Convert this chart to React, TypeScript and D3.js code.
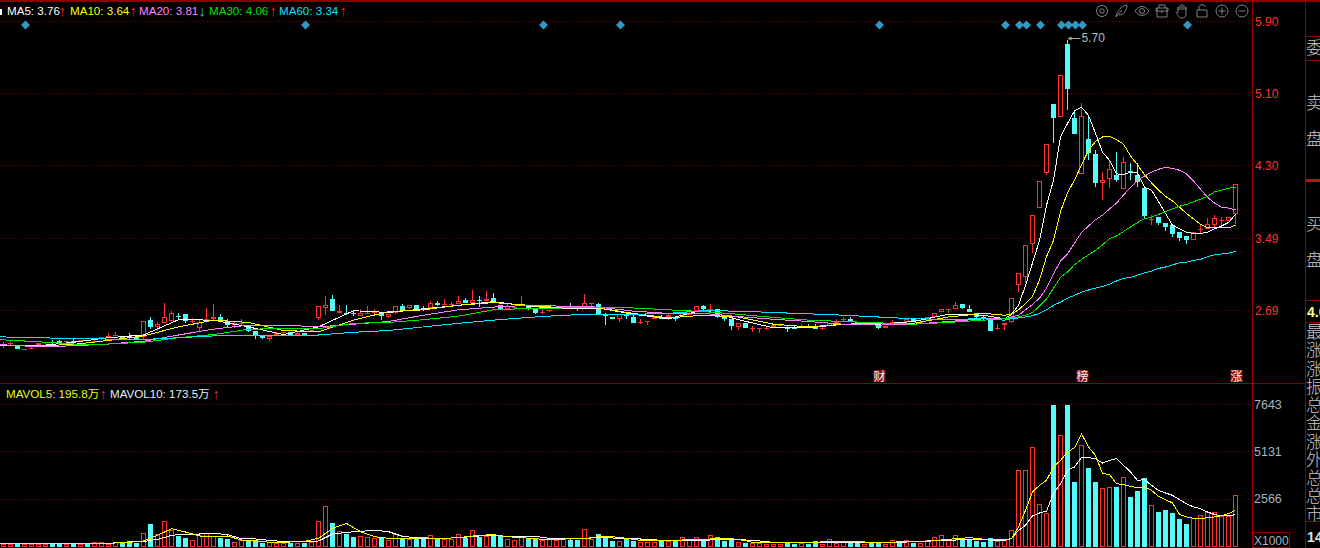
import { useEffect, useRef } from "react"
import * as d3 from "d3"

// Daily candles
const opens = [
  2.31, 2.33, 2.31, 2.26, 2.26, 2.31, 2.33, 2.34, 2.35, 2.34,
  2.35, 2.34, 2.36, 2.34, 2.375, 2.41, 2.425, 2.41, 2.41, 2.395,
  2.40, 2.585, 2.51, 2.555, 2.58, 2.63, 2.65, 2.57, 2.50, 2.59,
  2.60, 2.615, 2.58, 2.53, 2.54, 2.53, 2.46, 2.41, 2.38, 2.42,
  2.44, 2.45, 2.425, 2.44, 2.45, 2.61, 2.725, 2.82, 2.67, 2.67,
  2.66, 2.63, 2.66, 2.68, 2.67, 2.62, 2.66, 2.74, 2.725, 2.75,
  2.72, 2.725, 2.77, 2.76, 2.76, 2.76, 2.81, 2.78, 2.81, 2.80,
  2.83, 2.75, 2.71, 2.72, 2.74, 2.74, 2.71, 2.68, 2.69, 2.71,
  2.71, 2.74, 2.73, 2.71, 2.76, 2.76, 2.64, 2.62, 2.60, 2.65,
  2.625, 2.55, 2.56, 2.60, 2.62, 2.62, 2.625, 2.63, 2.64, 2.69,
  2.74, 2.70, 2.71, 2.64, 2.60, 2.51, 2.555, 2.50, 2.49, 2.50,
  2.51, 2.52, 2.50, 2.51, 2.50, 2.52, 2.51, 2.50, 2.525, 2.56,
  2.595, 2.60, 2.56, 2.55, 2.55, 2.52, 2.50, 2.56, 2.57, 2.56,
  2.60, 2.56, 2.59, 2.62, 2.68, 2.705, 2.705, 2.76, 2.71, 2.66,
  2.615, 2.585, 2.50, 2.53, 2.56, 2.97, 3.06, 3.43, 3.83, 4.22,
  4.99, 4.84, 5.65, 4.83, 4.21, 4.60, 4.43, 4.11, 4.15, 4.20,
  4.04, 4.24, 4.20, 4.05, 3.71, 3.73, 3.66, 3.64, 3.56, 3.52,
  3.47, 3.60, 3.60, 3.64, 3.69, 3.69, 3.76,
]
const highs = [
  2.34, 2.35, 2.31, 2.27, 2.31, 2.33, 2.34, 2.37, 2.36, 2.35,
  2.375, 2.36, 2.37, 2.36, 2.40, 2.44, 2.45, 2.41, 2.44, 2.40,
  2.58, 2.62, 2.56, 2.77, 2.685, 2.67, 2.65, 2.61, 2.60, 2.72,
  2.76, 2.65, 2.60, 2.57, 2.60, 2.53, 2.46, 2.42, 2.41, 2.45,
  2.45, 2.45, 2.46, 2.44, 2.48, 2.74, 2.85, 2.86, 2.75, 2.75,
  2.685, 2.71, 2.74, 2.71, 2.67, 2.65, 2.74, 2.76, 2.75, 2.75,
  2.74, 2.80, 2.80, 2.82, 2.79, 2.85, 2.83, 2.92, 2.85, 2.91,
  2.885, 2.75, 2.76, 2.73, 2.85, 2.74, 2.71, 2.71, 2.70, 2.73,
  2.73, 2.77, 2.73, 2.87, 2.78, 2.78, 2.67, 2.62, 2.65, 2.65,
  2.64, 2.60, 2.58, 2.62, 2.64, 2.655, 2.625, 2.66, 2.71, 2.74,
  2.75, 2.76, 2.71, 2.64, 2.60, 2.55, 2.555, 2.52, 2.50, 2.52,
  2.53, 2.555, 2.52, 2.53, 2.54, 2.54, 2.54, 2.52, 2.55, 2.60,
  2.62, 2.615, 2.56, 2.56, 2.55, 2.52, 2.52, 2.585, 2.57, 2.61,
  2.60, 2.59, 2.625, 2.67, 2.71, 2.71, 2.785, 2.76, 2.75, 2.66,
  2.64, 2.585, 2.54, 2.555, 2.83, 3.11, 3.42, 3.75, 4.13, 4.54,
  4.99, 5.31, 5.70, 4.92, 5.00, 4.84, 4.48, 4.23, 4.35, 4.45,
  4.40, 4.33, 4.33, 4.05, 3.75, 3.73, 3.66, 3.64, 3.56, 3.52,
  3.56, 3.64, 3.72, 3.75, 3.73, 3.73, 4.10,
]
const lows = [
  2.28, 2.31, 2.26, 2.26, 2.26, 2.29, 2.32, 2.32, 2.33, 2.32,
  2.33, 2.34, 2.35, 2.34, 2.37, 2.39, 2.41, 2.37, 2.37, 2.37,
  2.375, 2.49, 2.47, 2.55, 2.58, 2.595, 2.55, 2.55, 2.45, 2.57,
  2.58, 2.59, 2.51, 2.50, 2.52, 2.45, 2.375, 2.38, 2.355, 2.41,
  2.41, 2.42, 2.41, 2.42, 2.45, 2.585, 2.64, 2.69, 2.67, 2.64,
  2.63, 2.63, 2.66, 2.64, 2.585, 2.61, 2.65, 2.68, 2.71, 2.70,
  2.69, 2.725, 2.74, 2.76, 2.73, 2.76, 2.77, 2.78, 2.73, 2.80,
  2.79, 2.70, 2.70, 2.70, 2.74, 2.70, 2.655, 2.65, 2.68, 2.71,
  2.71, 2.72, 2.685, 2.71, 2.74, 2.65, 2.53, 2.60, 2.57, 2.60,
  2.55, 2.54, 2.53, 2.60, 2.60, 2.585, 2.58, 2.63, 2.64, 2.69,
  2.69, 2.70, 2.61, 2.58, 2.48, 2.48, 2.495, 2.45, 2.44, 2.48,
  2.51, 2.52, 2.45, 2.49, 2.50, 2.50, 2.49, 2.48, 2.525, 2.55,
  2.57, 2.58, 2.54, 2.55, 2.53, 2.49, 2.50, 2.56, 2.54, 2.56,
  2.57, 2.56, 2.59, 2.62, 2.68, 2.66, 2.705, 2.705, 2.68, 2.60,
  2.585, 2.47, 2.48, 2.48, 2.55, 2.90, 3.00, 3.33, 3.83, 4.20,
  4.55, 4.84, 4.92, 4.65, 4.21, 4.36, 4.06, 3.92, 4.05, 4.12,
  4.04, 4.14, 4.06, 3.71, 3.64, 3.64, 3.57, 3.51, 3.46, 3.43,
  3.47, 3.55, 3.60, 3.60, 3.64, 3.69, 3.65,
]
const closes = [
  2.31, 2.33, 2.27, 2.27, 2.28, 2.33, 2.34, 2.33, 2.33, 2.35,
  2.33, 2.36, 2.355, 2.35, 2.40, 2.41, 2.425, 2.39, 2.405, 2.38,
  2.58, 2.51, 2.54, 2.625, 2.67, 2.625, 2.58, 2.575, 2.56, 2.60,
  2.615, 2.59, 2.53, 2.55, 2.55, 2.47, 2.41, 2.39, 2.41, 2.44,
  2.45, 2.42, 2.44, 2.42, 2.48, 2.74, 2.75, 2.69, 2.685, 2.665,
  2.655, 2.66, 2.665, 2.68, 2.63, 2.65, 2.74, 2.70, 2.75, 2.71,
  2.715, 2.77, 2.75, 2.765, 2.76, 2.80, 2.77, 2.81, 2.80, 2.82,
  2.79, 2.71, 2.74, 2.73, 2.75, 2.71, 2.67, 2.68, 2.70, 2.73,
  2.73, 2.735, 2.72, 2.77, 2.77, 2.65, 2.635, 2.60, 2.65, 2.63,
  2.55, 2.57, 2.58, 2.62, 2.60, 2.64, 2.60, 2.66, 2.66, 2.74,
  2.71, 2.71, 2.62, 2.60, 2.52, 2.55, 2.495, 2.50, 2.50, 2.50,
  2.53, 2.54, 2.495, 2.49, 2.525, 2.50, 2.49, 2.50, 2.55, 2.57,
  2.595, 2.58, 2.54, 2.56, 2.53, 2.50, 2.52, 2.57, 2.54, 2.595,
  2.57, 2.57, 2.625, 2.67, 2.71, 2.71, 2.75, 2.725, 2.68, 2.62,
  2.61, 2.47, 2.50, 2.555, 2.83, 3.11, 3.42, 3.75, 4.13, 4.54,
  4.83, 5.31, 5.15, 4.65, 4.85, 4.44, 4.11, 4.14, 4.26, 4.14,
  4.34, 4.235, 4.12, 3.74, 3.71, 3.66, 3.62, 3.54, 3.50, 3.47,
  3.56, 3.60, 3.65, 3.72, 3.70, 3.73, 4.10,
]
const volumes = [
  161, 143, 179, 143, 143, 161, 161, 179, 179, 143,
  179, 179, 179, 250, 250, 179, 250, 197, 304, 232,
  733, 1234, 679, 1377, 912, 590, 483, 358, 644, 733,
  590, 483, 429, 250, 375, 322, 322, 215, 268, 232,
  232, 232, 232, 232, 268, 1377, 2181, 1287, 840, 697,
  536, 590, 519, 465, 501, 358, 679, 429, 447, 429,
  447, 626, 447, 447, 447, 679, 501, 894, 554, 608,
  626, 590, 429, 375, 554, 447, 447, 375, 429, 393,
  411, 393, 393, 948, 447, 697, 590, 322, 304, 465,
  322, 286, 286, 286, 304, 304, 304, 519, 411, 519,
  375, 626, 536, 340, 411, 250, 215, 197, 197, 179,
  179, 161, 197, 179, 197, 179, 322, 179, 411, 232,
  250, 232, 232, 143, 232, 197, 179, 358, 250, 358,
  232, 232, 358, 519, 626, 358, 626, 501, 411, 322,
  268, 465, 304, 358, 930, 4148, 4148, 5382, 2324, 1842,
  8600, 6026, 9000, 3469, 5489, 4220, 3469, 3183, 3236, 3201,
  3773, 2664, 2986, 3719, 2271, 1860, 1967, 1806, 1484, 1216,
  1538, 1734, 1895, 1895, 1681, 1681, 2807,
]

// Moving averages are read at these candle indexes, the lines come in from off the left edge
const maDays = [
  -1, 5, 10, 15, 20, 25, 30, 35, 40, 45,
  50, 55, 60, 65, 70, 75, 80, 85, 90, 95,
  100, 105, 110, 115, 120, 125, 130, 135, 140,
  143, 144, 145, 146, 147, 148, 149, 150, 151, 152,
  153, 154, 155, 156, 157, 158, 159, 160, 161, 162,
  163, 164, 165, 166, 167, 168, 169, 170, 171, 172,
  173, 174, 175, 176,
]
const ma5 = [
  2.30, 2.30, 2.34, 2.39, 2.42, 2.59, 2.585, 2.51, 2.425, 2.51,
  2.69, 2.67, 2.71, 2.75, 2.79, 2.74, 2.71, 2.72, 2.65, 2.60,
  2.70, 2.59, 2.50, 2.50, 2.54, 2.54, 2.57, 2.65, 2.64,
  2.60, 2.65, 2.75, 2.97, 3.22, 3.47, 3.86, 4.14, 4.62, 4.77,
  4.91, 4.95, 4.86, 4.66, 4.45, 4.36, 4.21, 4.20, 4.23, 4.22,
  4.06, 4.03, 3.90, 3.77, 3.64, 3.60, 3.56, 3.55, 3.55, 3.56,
  3.60, 3.63, 3.67, 3.76,
]
const ma10 = [
  2.30, 2.30, 2.315, 2.36, 2.41, 2.51, 2.585, 2.56, 2.47, 2.455,
  2.585, 2.68, 2.70, 2.75, 2.78, 2.75, 2.72, 2.72, 2.66, 2.61,
  2.64, 2.62, 2.54, 2.51, 2.54, 2.55, 2.55, 2.62, 2.66,
  2.64, 2.65, 2.70, 2.77, 2.85, 3.03, 3.29, 3.47, 3.79, 4.00,
  4.14, 4.31, 4.47, 4.57, 4.62, 4.63, 4.59, 4.54, 4.41, 4.31,
  4.20, 4.11, 4.03, 3.96, 3.91, 3.84, 3.77, 3.71, 3.65, 3.61,
  3.61, 3.61, 3.61, 3.64,
]
const ma20 = [
  2.315, 2.29, 2.30, 2.32, 2.35, 2.42, 2.485, 2.53, 2.53, 2.51,
  2.54, 2.57, 2.64, 2.70, 2.73, 2.75, 2.74, 2.73, 2.685, 2.66,
  2.66, 2.625, 2.595, 2.57, 2.54, 2.53, 2.54, 2.57, 2.60,
  2.60, 2.62, 2.64, 2.70, 2.76, 2.83, 2.94, 3.10, 3.24, 3.32,
  3.44, 3.56, 3.63, 3.70, 3.75, 3.82, 3.885, 3.975, 4.06, 4.14,
  4.185, 4.23, 4.26, 4.285, 4.27, 4.25, 4.21, 4.13, 4.04, 3.95,
  3.885, 3.84, 3.83, 3.81,
]
const ma30 = [
  2.37, 2.345, 2.32, 2.32, 2.34, 2.39, 2.425, 2.485, 2.49, 2.49,
  2.55, 2.56, 2.59, 2.63, 2.70, 2.715, 2.72, 2.73, 2.72, 2.70,
  2.68, 2.65, 2.615, 2.585, 2.57, 2.555, 2.54, 2.56, 2.585,
  2.60, 2.61, 2.62, 2.64, 2.67, 2.74, 2.82, 2.94, 3.06, 3.12,
  3.20, 3.26, 3.31, 3.36, 3.42, 3.49, 3.52, 3.57, 3.62, 3.67,
  3.71, 3.73, 3.76, 3.79, 3.82, 3.85, 3.87, 3.90, 3.93, 3.96,
  4.01, 4.03, 4.05, 4.06,
]
const ma60 = [
  2.40, 2.39, 2.38, 2.375, 2.37, 2.39, 2.41, 2.41, 2.41, 2.42,
  2.45, 2.47, 2.51, 2.55, 2.585, 2.615, 2.64, 2.65, 2.65, 2.66,
  2.69, 2.685, 2.67, 2.655, 2.64, 2.62, 2.60, 2.595, 2.60,
  2.585, 2.60, 2.61, 2.62, 2.635, 2.66, 2.70, 2.75, 2.785, 2.83,
  2.86, 2.895, 2.92, 2.94, 2.96, 2.985, 3.02, 3.05, 3.06, 3.085,
  3.11, 3.13, 3.16, 3.175, 3.20, 3.22, 3.23, 3.25, 3.26, 3.29,
  3.31, 3.32, 3.33, 3.35,
]

// Volume averages, read the same way
const volDays = [
  -1, 5, 10, 15, 18, 20, 22, 24, 26, 28,
  30, 32, 34, 36, 38, 40, 43, 45, 47, 49,
  51, 53, 55, 57, 60, 62, 65, 68, 70,
  72, 76, 78, 81, 83, 85, 87, 89, 91, 94,
  97, 100, 102, 104, 106, 107, 110, 114, 116, 118,
  122, 124, 126, 129, 132, 134, 136, 138, 141,
  143, 144, 145, 146, 147, 148, 149, 150, 151, 152,
  153, 154, 155, 156, 157, 158, 159, 160, 161, 162,
  163, 164, 165, 166, 167, 168, 169, 170, 171, 172,
  173, 174, 175, 176,
]
const mavol5 = [
  197, 197, 197, 197, 250, 322, 626, 983, 805, 590,
  572, 590, 375, 340, 250, 250, 304, 465, 1001, 1269,
  822, 554, 465, 429, 501, 447, 501, 626, 662,
  554, 447, 375, 447, 447, 554, 554, 465, 358, 358,
  375, 411, 447, 447, 340, 250, 232, 250, 250, 304,
  304, 232, 232, 304, 304, 375, 447, 501, 375,
  393, 447, 1073, 1967, 2950, 3308, 3576, 4291, 4649, 5096,
  5328, 6079, 5364, 4917, 3934, 3898, 3397, 3344, 3254, 3183,
  3218, 3040, 2718, 2539, 2360, 1752, 1609, 1538, 1520, 1573,
  1609, 1681, 1788, 1958,
]
const mavol10 = [
  197, 197, 197, 197, 268, 286, 411, 626, 697, 697,
  733, 662, 447, 429, 358, 286, 286, 322, 697, 787,
  840, 894, 822, 572, 447, 447, 501, 590, 644,
  554, 572, 465, 429, 465, 501, 483, 447, 429, 358,
  358, 358, 393, 429, 375, 358, 250, 250, 250, 250,
  250, 250, 250, 268, 322, 340, 375, 411, 375,
  358, 447, 894, 1162, 1663, 1824, 1931, 2861, 3397, 4112,
  4291, 4792, 4792, 4738, 4506, 4649, 4738, 4381, 4023, 3576,
  3612, 3308, 3040, 2897, 2771, 2539, 2324, 2146, 2056, 1877,
  1752, 1663, 1681, 1735,
]

const priceTicks = [5.9, 5.1, 4.3, 3.49, 2.69]
const volTicks = [7643, 5131, 2566]
const signalDays = [3, 43, 77, 88, 125, 143, 145, 146, 148, 151, 152, 153, 154, 169]
const eventLabels = [
  { day: 125, text: "财" },
  { day: 154, text: "榜" },
  { day: 176, text: "涨" },
]
const maLegend = [
  { label: "MA5: 3.76", x: 7, arrowX: 58.5, arrow: "↑", color: "#ffffff", up: true },
  { label: "MA10: 3.64", x: 70, arrowX: 129.5, arrow: "↑", color: "#ffff00", up: true },
  { label: "MA20: 3.81", x: 139, arrowX: 198.5, arrow: "↓", color: "#ff80ff", up: false },
  { label: "MA30: 4.06", x: 209, arrowX: 269.5, arrow: "↑", color: "#00e600", up: true },
  { label: "MA60: 3.34", x: 279, arrowX: 339.5, arrow: "↑", color: "#00e5ff", up: true },
]
const sideLabels = [
  { text: "委", y: 54 }, { text: "卖", y: 109 }, { text: "盘", y: 145 },
  { text: "买", y: 230 }, { text: "盘", y: 266 }, { text: "最", y: 338 },
  { text: "涨", y: 356 }, { text: "涨", y: 375 }, { text: "振", y: 393 },
  { text: "总", y: 411 }, { text: "金", y: 429 }, { text: "涨", y: 448 },
  { text: "外", y: 466 }, { text: "总", y: 484 }, { text: "总", y: 502 },
  { text: "市", y: 520 },
]

const RED = "#ff3232"
const CYAN = "#54fcfc"
const FRAME = "#8c0000"
const GRID = "#7a0000"
const FONT = "'Liberation Sans', Arial, sans-serif"

export default function App() {
  const svgRef = useRef<SVGSVGElement>(null)

  useEffect(() => {
    if (!svgRef.current) return
    const svg = d3.select(svgRef.current)
    svg.selectAll("*").remove()

    const x = d3.scaleLinear().domain([0, 176]).range([3.5, 1235.5])
    const yPrice = d3.scaleLinear().domain([2.69, 5.9]).range([310.7, 21.7])
    const yVol = d3.scaleLinear().domain([0, 7643]).range([547, 404.5]).clamp(true)
    const snap = (v: number) => Math.round(v) + 0.5

    // Draws a hollow red box or a solid cyan one on whole pixels
    const drawBody = (
      g: d3.Selection<SVGGElement, unknown, null, undefined>,
      cx: number, top: number, bottom: number, up: boolean,
    ) => {
      g.append("rect").attr("x", cx - 2.5).attr("y", top).attr("width", 5)
        .attr("height", Math.max(1, bottom - top)).attr("fill", up ? RED : CYAN)
      if (up && bottom - top > 2) {
        g.append("rect").attr("x", cx - 1.5).attr("y", top + 1).attr("width", 3)
          .attr("height", bottom - top - 2).attr("fill", "#000")
      }
    }

    // Grid lines
    const grid = svg.append("g").attr("stroke", GRID).attr("stroke-dasharray", "1 2")
    priceTicks.forEach((t) => {
      grid.append("line").attr("x1", 0).attr("x2", 1252)
        .attr("y1", snap(yPrice(t) - 0.5)).attr("y2", snap(yPrice(t) - 0.5))
    })
    volTicks.forEach((t) => {
      grid.append("line").attr("x1", 0).attr("x2", 1252)
        .attr("y1", snap(yVol(t) - 0.5)).attr("y2", snap(yVol(t) - 0.5))
    })

    // Candles
    const candles = svg.append("g").attr("shape-rendering", "crispEdges")
    opens.forEach((open, i) => {
      const close = closes[i]
      const up = close >= open
      const color = up ? RED : CYAN
      const cx = x(i)
      const top = Math.round(yPrice(Math.max(open, close)))
      const bottom = Math.round(yPrice(Math.min(open, close)))
      const hi = Math.round(yPrice(highs[i]))
      const lo = Math.round(yPrice(lows[i]))
      candles.append("line").attr("x1", cx).attr("x2", cx).attr("y1", hi).attr("y2", top).attr("stroke", color)
      candles.append("line").attr("x1", cx).attr("x2", cx).attr("y1", bottom).attr("y2", lo).attr("stroke", color)
      drawBody(candles, cx, top, bottom, up)
    })

    // Moving averages
    const maLine = d3.line<number>()
      .x((_, i) => x(maDays[i]))
      .y((d) => yPrice(d))
    const maSeries = [ma5, ma10, ma20, ma30, ma60]
    maSeries.forEach((series, i) => {
      svg.append("path").attr("d", maLine(series)).attr("fill", "none")
        .attr("stroke", maLegend[i].color).attr("shape-rendering", "crispEdges")
    })

    // Highest price note
    const maxY = yPrice(d3.max(highs) as number)
    const maxX = x(highs.indexOf(d3.max(highs) as number))
    svg.append("line").attr("x1", maxX + 1).attr("x2", maxX + 13).attr("y1", snap(maxY - 2)).attr("y2", snap(maxY - 2)).attr("stroke", "#a8a8a8")
    svg.append("path").attr("d", `M${maxX},${snap(maxY - 2)}l4,-2v4z`).attr("fill", "#a8a8a8")
    svg.append("text").attr("x", maxX + 14).attr("y", maxY + 2).attr("fill", "#b4bcc4")
      .attr("font-size", 12).attr("font-family", FONT).text("5.70")

    // Signal diamonds
    signalDays.forEach((d) => {
      svg.append("path").attr("transform", `translate(${x(d) + 1},25)`)
        .attr("d", "M0,-4.5L4.5,0L0,4.5L-4.5,0Z").attr("fill", "#2e9ac4")
    })

    // Event tags
    eventLabels.forEach((e) => {
      const cx = x(e.day) + 1
      svg.append("rect").attr("x", cx - 6).attr("y", 370).attr("width", 12).attr("height", 12).attr("fill", "#8c1010")
      svg.append("text").attr("x", cx).attr("y", 380.5).attr("text-anchor", "middle")
        .attr("fill", "#f0f0f0").attr("font-size", 12).attr("font-family", "'Noto Sans CJK SC'").text(e.text)
    })

    // Volume bars
    const bars = svg.append("g").attr("shape-rendering", "crispEdges")
    volumes.forEach((v, i) => {
      drawBody(bars, x(i), Math.round(yVol(v)), 547, closes[i] >= opens[i])
    })
    const volLine = d3.line<number>()
      .x((_, i) => x(volDays[i]))
      .y((d) => yVol(d))
    svg.append("path").attr("d", volLine(mavol10)).attr("fill", "none").attr("stroke", "#ffffff").attr("shape-rendering", "crispEdges")
    svg.append("path").attr("d", volLine(mavol5)).attr("fill", "none").attr("stroke", "#ffff00").attr("shape-rendering", "crispEdges")

    // Frame
    const frame = svg.append("g").attr("stroke", FRAME).attr("shape-rendering", "crispEdges")
    frame.append("rect").attr("x", 0).attr("y", 0).attr("width", 1320).attr("height", 2).attr("fill", FRAME).attr("stroke", "none")
    frame.append("line").attr("x1", 1252.5).attr("x2", 1252.5).attr("y1", 0).attr("y2", 548)
    frame.append("line").attr("x1", 1305.5).attr("x2", 1305.5).attr("y1", 0).attr("y2", 548)
    frame.append("line").attr("x1", 0).attr("x2", 1305).attr("y1", 383.5).attr("y2", 383.5)
    ;[36, 60, 300, 322, 521].forEach((y) => {
      frame.append("line").attr("x1", 1305).attr("x2", 1320).attr("y1", y + 0.5).attr("y2", y + 0.5)
    })
    frame.append("rect").attr("x", 1306).attr("y", 179).attr("width", 14).attr("height", 3).attr("fill", "#b01818").attr("stroke", "none")
    frame.append("rect").attr("x", 1253.5).attr("y", 532.5).attr("width", 36).attr("height", 15).attr("fill", "none")

    // Axis labels
    priceTicks.forEach((t) => {
      svg.append("text").attr("x", 1255).attr("y", yPrice(t) + 1.5).attr("dominant-baseline", "middle")
        .attr("fill", RED).attr("font-size", 12).attr("font-family", FONT).text(t.toFixed(2))
    })
    volTicks.forEach((t) => {
      svg.append("text").attr("x", 1254).attr("y", yVol(t) + 1).attr("dominant-baseline", "middle")
        .attr("fill", "#a4b4c4").attr("font-size", 12.5).attr("font-family", FONT).text(String(t))
    })
    svg.append("text").attr("x", 1254).attr("y", 544.5).attr("fill", "#a4b4c4")
      .attr("font-size", 12).attr("font-family", FONT).text("X1000")

    // MA legend
    svg.append("rect").attr("x", 0).attr("y", 9).attr("width", 2).attr("height", 6).attr("fill", "#ffffff")
    const legend = svg.append("g").attr("font-size", 11.6).attr("font-family", FONT)
    maLegend.forEach((m) => {
      legend.append("text").attr("x", m.x).attr("y", 15).attr("fill", m.color).text(m.label)
      legend.append("text").attr("x", m.arrowX).attr("y", 15.5).attr("font-size", 15)
        .attr("fill", m.up ? "#f02020" : "#20c8c8").text(m.arrow)
    })

    // Volume legend
    const volLegend = svg.append("g").attr("font-size", 11.6).attr("font-family", "'Liberation Sans', 'Noto Sans CJK SC', sans-serif")
    volLegend.append("text").attr("x", 6).attr("y", 398).attr("fill", "#e8ff00").text("MAVOL5: 195.8万")
    volLegend.append("text").attr("x", 99.5).attr("y", 398.5).attr("font-size", 15).attr("fill", "#c03040").text("↑")
    volLegend.append("text").attr("x", 110).attr("y", 398).attr("fill", "#e0f0ff").text("MAVOL10: 173.5万")
    volLegend.append("text").attr("x", 212.5).attr("y", 398.5).attr("font-size", 15).attr("fill", "#c03040").text("↑")

    // Toolbar icons
    const icons = svg.append("g").attr("fill", "none").attr("stroke", "#808080").attr("stroke-width", 1)
    const gear = icons.append("g").attr("transform", "translate(1102,11)")
    gear.append("path").attr("d", d3.range(8).map((i) => {
      const a = (i * Math.PI) / 4
      return `${i ? "L" : "M"}${5.8 * Math.cos(a)},${5.8 * Math.sin(a)}`
    }).join("") + "Z")
    gear.append("circle").attr("r", 2.2)
    icons.append("path").attr("transform", "translate(1121,11)")
      .attr("d", "M-5,6C-4,0 0,-5 6,-6C6,-1 3,4 -2,4M-5,6L1,-1")
    const eye = icons.append("g").attr("transform", "translate(1142,11)")
    eye.append("path").attr("d", "M-7,0C-3,-6 3,-6 7,0C3,6 -3,6 -7,0Z")
    eye.append("circle").attr("r", 2.5)
    icons.append("path").attr("transform", "translate(1162,11)")
      .attr("d", "M-5,-3V6H5V-3M-6,-3H6V0H-6ZM-3,-3V-6H3V-3M-1,1H1")
    icons.append("path").attr("transform", "translate(1182,11)")
      .attr("d", "M-4,2V-4V-1M-2,-1V-6M0,-1V-7M2,-1V-6M4,-1V-4M4,-4V3C4,6 2,7 0,7C-3,7 -4,5 -6,1")
    icons.append("path").attr("transform", "translate(1202,11)")
      .attr("d", "M-5,-1H5V6H-5ZM-3,-1V-4C-3,-7 3,-7 3,-4")
    const plus = icons.append("g").attr("transform", "translate(1222,11)")
    plus.append("circle").attr("r", 6)
    plus.append("path").attr("d", "M-3.5,0H3.5M0,-3.5V3.5")
    const minus = icons.append("g").attr("transform", "translate(1242,11)")
    minus.append("circle").attr("r", 6)
    minus.append("path").attr("d", "M-3.5,0H3.5")

    // Clipped quote panel on the right
    const side = svg.append("g").attr("font-family", "'Noto Sans CJK SC'").attr("font-size", 17).attr("font-weight", 300).attr("fill", "#c8c8c8")
    sideLabels.forEach((s) => {
      side.append("text").attr("x", 1306).attr("y", s.y).text(s.text)
    })
    svg.append("text").attr("x", 1307).attr("y", 317).attr("fill", "#ffff80").attr("font-size", 14).attr("font-weight", 700)
      .attr("font-family", FONT).text("4.0")
    svg.append("text").attr("x", 1307).attr("y", 542).attr("fill", "#e0e0e0").attr("font-size", 14).attr("font-weight", 700)
      .attr("font-family", FONT).text("14")
  }, [])

  return (
    <svg
      ref={svgRef}
      width={1320}
      height={548}
      style={{ display: "block", position: "absolute", left: 0, top: 0, background: "#000" }}
    />
  )
}
